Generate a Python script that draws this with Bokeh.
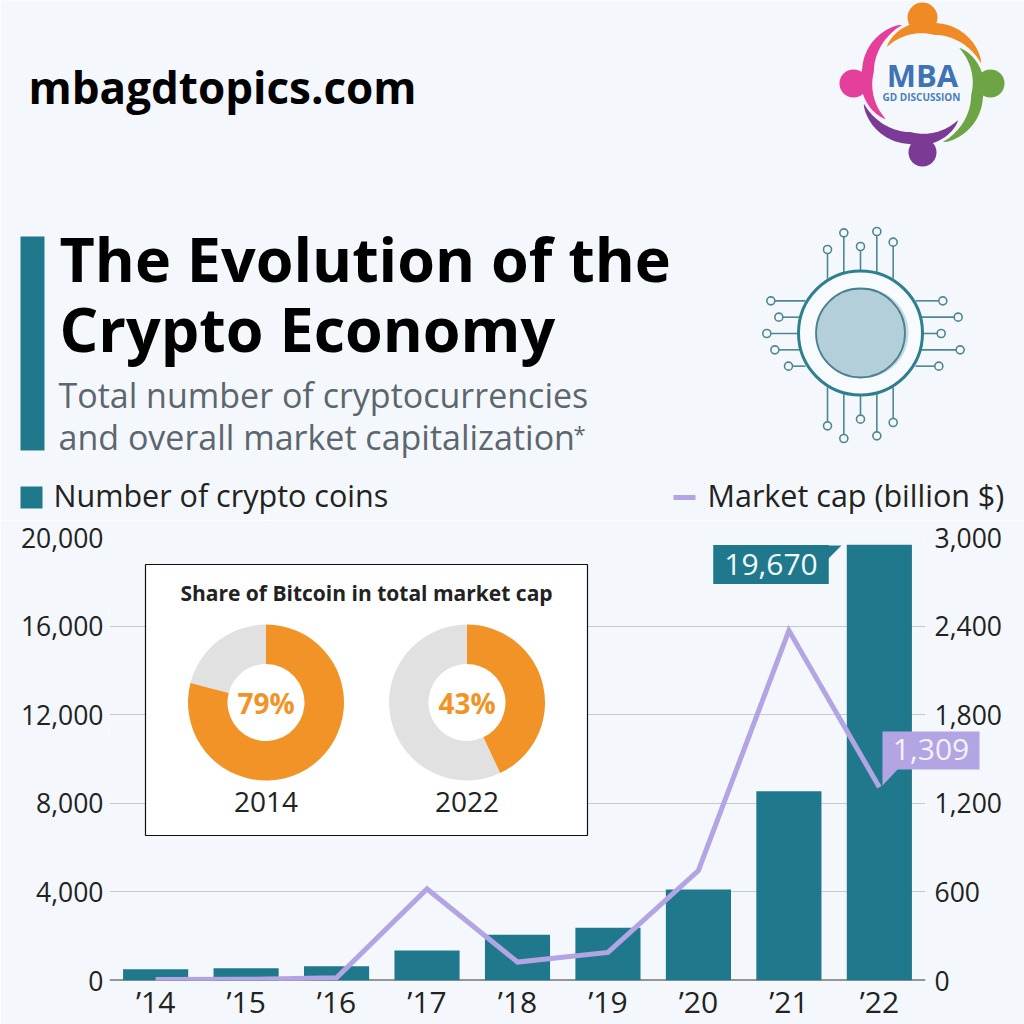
import numpy as np
from bokeh.plotting import figure
from bokeh.layouts import column
from bokeh.models import Range1d, LinearAxis, FixedTicker, NumeralTickFormatter, Label, Span
from bokeh.core.properties import value
from bokeh.embed import file_html
from bokeh.resources import INLINE

# ---------- data ----------
categories = ["’14", "’15", "’16", "’17", "’18", "’19", "’20", "’21", "’22"]
coins = [510, 555, 645, 1350, 2060, 2380, 4110, 8540, 19670]
market_cap = [6, 8, 18, 620, 125, 190, 745, 2370, 1309]
left_ticks = [0, 4000, 8000, 12000, 16000, 20000]
right_ticks = [0, 600, 1200, 1800, 2400, 3000]
share_years = ["2014", "2022"]
bitcoin_share = [79, 43]

BG = "#f4f8fc"
TEAL = "#20788c"
LILAC = "#b3a5e3"
ORANGE = "#f29327"
GREY = "#e1e1e1"
INK = "#222222"
FONT = "Open Sans"

# ---------- header figure (coordinates are reference pixels) ----------
top = figure(width=1024, height=520, x_range=Range1d(0, 1024), y_range=Range1d(520, 0),
             output_backend="svg", toolbar_location=None, min_border=0, frame_align=False,
             background_fill_color=BG, border_fill_color=BG, outline_line_color=None)
top.axis.visible = False
top.grid.visible = False


def T(fig, x, y, text, size, color=INK, bold=False, align="left", baseline="alphabetic", font=FONT, **kw):
    fig.text([x], [y], text=[text], text_font=value(font), text_font_size=f"{size}px",
             text_color=color, text_font_style="bold" if bold else "normal",
             text_align=align, text_baseline=baseline, **kw)


T(top, 28, 86, "mbagdtopics.com", 44, "#000000", True)
T(top, 59, 258, "The Evolution of the", 61, "#000000", True)
T(top, 59, 328, "Crypto Economy", 61, "#000000", True)
T(top, 58, 394, "Total number of cryptocurrencies", 34, "#5c666e")
T(top, 58, 436, "and overall market capitalization", 34, "#5c666e")
T(top, 573, 432, "*", 22, "#5c666e")

top.quad(left=[20], right=[44], top=[236], bottom=[450], fill_color=TEAL, line_color=None)

# legend
top.quad(left=[20], right=[42], top=[486], bottom=[508], fill_color=TEAL, line_color=None)
T(top, 53, 494, "Number of crypto coins", 30.5, baseline="middle")
top.line([673, 695], [497, 497], line_color=LILAC, line_width=5)
T(top, 707, 494, "Market cap (billion $)", 30.5, baseline="middle")

# logo
cx, cy = 922, 83
logo_parts = [(19, "#f08a24", cx, 17, 15), (109, "#e43f9b", 853, cy, 14),
              (199, "#7b3a96", cx, 152, 14), (289, "#6da544", 990, cy, 14)]
for a0, col, hx, hy, hr in logo_parts:
    t = np.linspace(0, 1, 60)
    ang = np.radians(a0 + 115 * t)
    r_in = 62 - 12 * np.minimum(t / 0.5, 1)
    r_in = np.where(t > 0.5, 50 + 1 * (t - 0.5) * 2, r_in)
    r_out = r_in + 12 * np.sin(np.pi * t) ** 0.8
    xs = np.r_[cx + r_in * np.cos(ang), (cx + r_out * np.cos(ang))[::-1]]
    ys = np.r_[cy - r_in * np.sin(ang), (cy - r_out * np.sin(ang))[::-1]]
    top.patch(xs, ys, fill_color=col, line_color=None)
    top.circle([hx], [hy], radius=hr, fill_color=col, line_color=None)
T(top, 922, 74, "MBA", 31, "#3f73b5", True, "center", "middle")
T(top, 921, 96, "GD DISCUSSION", 10, "#4a7fbc", True, "center", "middle")

# chip icon
chip_color = "#4d8796"
px, py = 740, 210
vertical = [(261, 117, 205), (310, 67, 185), (360, 108, 180), (409, 63, 185), (458, 95, 205),
            (261, 646, 530), (310, 684, 550), (360, 626, 553), (409, 676, 550), (458, 636, 530)]
horizontal = [(91, 271, 195), (115, 320, 180), (79, 369, 175), (103, 418, 180), (144, 467, 195),
              (607, 271, 525), (653, 320, 540), (602, 369, 545), (659, 418, 540), (595, 467, 525)]
for x, y, end in vertical:
    top.line([px + x / 3, px + x / 3], [py + y / 3, py + end / 3], line_color=chip_color, line_width=1.6)
    top.circle([px + x / 3], [py + y / 3], radius=4, fill_color=BG, line_color=chip_color, line_width=1.6)
for x, y, end in horizontal:
    top.line([px + x / 3, px + end / 3], [py + y / 3, py + y / 3], line_color=chip_color, line_width=1.6)
    top.circle([px + x / 3], [py + y / 3], radius=4, fill_color=BG, line_color=chip_color, line_width=1.6)
top.circle([860], [332.5], radius=62, fill_color="#f8fbfd", line_color="#2f7f90", line_width=3)
top.circle([863], [332.5], radius=45, fill_color="#c3dbe2", line_color=None)
top.circle([860], [332.5], radius=44.5, fill_color="#b3d0da", line_color="#4a8090", line_width=1.8)

# ---------- chart figure ----------
positions = list(range(len(categories)))
p = figure(width=1024, height=504, x_range=Range1d(-0.51, 8.51),
           y_range=Range1d(0, 20000), output_backend="svg", toolbar_location=None,
           frame_width=816, frame_height=443, frame_align=False,
           min_border_left=109, min_border_right=99, min_border_top=17, min_border_bottom=44,
           background_fill_color=BG, border_fill_color=BG, outline_line_color=None)
p.extra_y_ranges["cap"] = Range1d(0, 3000)
p.extra_x_ranges["px"] = Range1d(109, 925)
p.extra_y_ranges["px"] = Range1d(980, 537)

p.ygrid.ticker = FixedTicker(ticks=left_ticks)
p.ygrid.grid_line_color = "#c4cacd"
p.ygrid.grid_line_width = 1
p.xgrid.visible = False

yax = p.yaxis[0]
yax.ticker = FixedTicker(ticks=left_ticks)
yax.formatter = NumeralTickFormatter(format="0,0")
rax = LinearAxis(y_range_name="cap", ticker=FixedTicker(ticks=right_ticks),
                 formatter=NumeralTickFormatter(format="0,0"))
p.add_layout(rax, "right")
for ax in (yax, rax):
    ax.axis_line_color = None
    ax.major_tick_line_color = None
    ax.major_tick_out = 0
    ax.major_tick_in = 0
    ax.minor_tick_line_color = None
    ax.minor_tick_out = 0
    ax.major_label_text_font = FONT
    ax.major_label_text_font_size = "26.5px"
    ax.major_label_text_color = INK
    ax.major_label_standoff = 6
rax.major_label_standoff = 9

xax = p.xaxis[0]
xax.ticker = FixedTicker(ticks=positions)
xax.major_label_overrides = dict(zip(positions, categories))
xax.axis_line_color = None
xax.major_tick_line_color = None
xax.major_tick_out = 0
xax.major_tick_in = 0
xax.minor_tick_line_color = None
xax.minor_tick_out = 0
xax.major_label_text_font = FONT
xax.major_label_text_font_size = "30px"
xax.major_label_text_color = INK
xax.major_label_standoff = 0
p.add_layout(Span(location=0, dimension="width", line_color="#333333", line_width=2, level="underlay"))

p.vbar(x=positions, top=coins, width=0.72, fill_color=TEAL, line_color=None)
p.line(x=positions, y=market_cap, y_range_name="cap", line_color=LILAC, line_width=5,
       line_join="miter")

# call-outs
PX = dict(x_range_name="px", y_range_name="px")
p.patch([827, 841, 827], [545, 545, 559], fill_color=TEAL, line_color=None, **PX)
p.add_layout(Label(x=770.5, y=564, text=f"{coins[-1]:,}", text_font=FONT, text_font_size="30px",
                   text_color="#f2fbfb", text_align="center", text_baseline="middle",
                   background_fill_color=TEAL, padding=(11, 9), level="overlay", **PX))

# inset
p.quad(left=[145], right=[587], top=[564], bottom=[835], fill_color="#ffffff",
       line_color="#111111", line_width=1.2, **PX)
T(p, 366, 592, "Share of Bitcoin in total market cap", 21, "#222222", True, "center", "middle", **PX)
for cxx, share, year in zip([265.5, 466.5], bitcoin_share, share_years):
    end = np.pi / 2
    start = end - 2 * np.pi * share / 100
    p.annular_wedge([cxx], [702], inner_radius=38.5, outer_radius=78, start_angle=end,
                    end_angle=start + 2 * np.pi, direction="anticlock", fill_color=GREY, line_color=None,
                    inner_radius_units="screen", outer_radius_units="screen", **PX)
    p.annular_wedge([cxx], [702], inner_radius=38.5, outer_radius=78, start_angle=start,
                    end_angle=end, direction="anticlock", fill_color=ORANGE, line_color=None,
                    inner_radius_units="screen", outer_radius_units="screen", **PX)
    T(p, cxx, 702, f"{share}%", 28, ORANGE, True, "center", "middle", **PX)
    T(p, cxx, 801, year, 28, INK, False, "center", "middle", **PX)

# ---------- transparent strip over the chart, so the 1,309 call-out can cross the frame edge ----------
strip = figure(width=1024, height=90, x_range=Range1d(0, 1024), y_range=Range1d(800, 710),
               output_backend="svg", toolbar_location=None, min_border=0, frame_align=False,
               background_fill_alpha=0, border_fill_alpha=0, outline_line_color=None,
               margin=(-314, 0, 224, 0))
strip.axis.visible = False
strip.grid.visible = False
strip.quad(left=[882], right=[979], top=[731], bottom=[769], fill_color=LILAC, line_color=None)
strip.patch([882, 882, 898], [768, 785, 768], fill_color=LILAC, line_color=None)
T(strip, 930.5, 749, f"{market_cap[-1]:,}", 30, "#f4f1fc", False, "center", "middle")

open("out.html", "w").write(file_html(column(top, p, strip), INLINE))
